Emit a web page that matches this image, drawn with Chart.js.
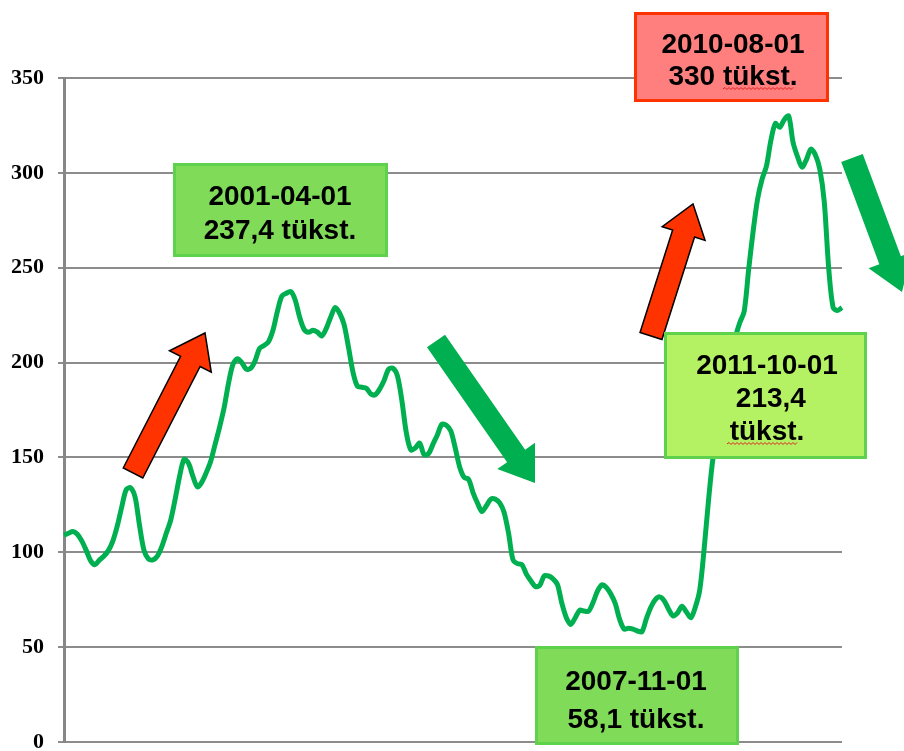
<!DOCTYPE html>
<html>
<head>
<meta charset="utf-8">
<script src="https://cdn.jsdelivr.net/npm/chart.js@4"></script>
<style>
  body { margin: 0; background: #fff; }
  canvas { display: block; }
</style>
</head>
<body>
<canvas id="myLineChart" width="904" height="751"></canvas>
<script>
// monthly values, thousands, 1997-01 .. 2011-08
var startYear = 1997;
var values = [
  109, 110, 111, 109.5, 106, 101, 95.5, 93.5, 96, 98, 101, 106,          // 1997
  114, 124, 133, 134, 129, 114, 101, 96.5, 96, 98, 103, 110,             // 1998
  117, 128, 140, 149, 147, 140, 134.5, 137, 142, 148, 157, 166,          // 1999
  176, 189, 199, 202, 200, 196.5, 197, 201, 207.5, 209, 211, 217,        // 2000
  227, 235, 236.5, 237.4, 233, 224, 217.5, 216, 217, 216, 214, 218,      // 2001
  224, 229, 226, 220, 208, 195, 187.5, 187, 186.5, 183.5, 183, 186,      // 2002
  190.5, 196.5, 197, 193, 180, 163, 154, 155, 157.5, 151.5, 152, 157,    // 2003
  162, 167.5, 167, 164, 155, 145, 139.5, 138.5, 131.5, 126, 121.5, 124.5,// 2004
  128, 128, 126, 121, 110, 96, 94, 93.5, 88.5, 85, 82, 82.5,             // 2005
  87.5, 87.5, 86, 83, 73, 65.5, 62, 65.5, 69.5, 69, 69, 73.5,            // 2006
  79.5, 82.8, 81.5, 78, 73, 64.5, 59.5, 60, 59.5, 58.5, 58.1, 65,        // 2007
  71, 75, 76.5, 74.5, 70, 66.5, 68, 71.5, 68.5, 65.5, 71, 80,            // 2008
  102, 128, 150, 163, 176, 188, 200, 213, 221, 227, 249, 269,            // 2009
  286, 296.5, 303.5, 317, 326, 324, 328, 330, 316, 308.5, 303, 307,      // 2010
  312.5, 309.5, 302, 285, 250, 229, 227.5, 229                           // 2011
];
var months = [];
for (var i = 0; i < values.length; i++) {
  var y = startYear + Math.floor(i / 12);
  var m = (i % 12) + 1;
  months.push(y + '-' + (m < 10 ? '0' + m : m));
}
var yTicks = [0, 50, 100, 150, 200, 250, 300, 350];

// callout boxes: text lines
var boxPeak1 = ['2001-04-01', '237,4 tükst.'];
var boxLow = ['2007-11-01', '58,1 tükst.'];
var boxPeak2 = ['2010-08-01', '330 tükst.'];
var boxLast = ['2011-10-01', ' 213,4', 'tükst.'];

var textFont = 'bold 28px "Liberation Sans", Arial, sans-serif';

function arrow(ctx, x0, y0, x1, y1, shaftW, headW, headL, fill, stroke) {
  var ang = Math.atan2(y1 - y0, x1 - x0);
  var len = Math.hypot(x1 - x0, y1 - y0);
  ctx.save();
  ctx.translate(x0, y0);
  ctx.rotate(ang);
  ctx.beginPath();
  ctx.moveTo(0, -shaftW / 2);
  ctx.lineTo(len - headL, -shaftW / 2);
  ctx.lineTo(len - headL, -headW / 2);
  ctx.lineTo(len, 0);
  ctx.lineTo(len - headL, headW / 2);
  ctx.lineTo(len - headL, shaftW / 2);
  ctx.lineTo(0, shaftW / 2);
  ctx.closePath();
  ctx.fillStyle = fill;
  ctx.fill();
  if (stroke) {
    ctx.strokeStyle = stroke;
    ctx.lineWidth = 1.5;
    ctx.stroke();
  }
  ctx.restore();
}

function box(ctx, x, y, w, h, fill, border, lines, cx, baselines) {
  ctx.save();
  ctx.fillStyle = fill;
  ctx.fillRect(x, y, w, h);
  ctx.strokeStyle = border;
  ctx.lineWidth = 3;
  ctx.strokeRect(x + 1.5, y + 1.5, w - 3, h - 3);
  ctx.fillStyle = '#000';
  ctx.font = textFont;
  ctx.textAlign = 'center';
  ctx.textBaseline = 'alphabetic';
  for (var i = 0; i < lines.length; i++) {
    ctx.fillText(lines[i], cx, baselines[i]);
  }
  ctx.restore();
}

// spell-check squiggle
function squiggle(ctx, x0, x1, y) {
  ctx.save();
  ctx.strokeStyle = '#e02020';
  ctx.lineWidth = 1;
  ctx.beginPath();
  var up = true;
  ctx.moveTo(x0, y);
  for (var x = x0 + 2; x <= x1; x += 2) {
    ctx.lineTo(x, up ? y - 1.5 : y + 0.5);
    up = !up;
  }
  ctx.stroke();
  ctx.restore();
}

const callouts = {
  id: 'callouts',
  afterDatasetsDraw(chart) {
    const { ctx } = chart;
    // arrows
    arrow(ctx, 133, 473, 205, 333, 22, 47, 32, '#FF3300', '#000');
    arrow(ctx, 651, 336, 693, 204, 23, 45, 31, '#FF3300', '#000');
    arrow(ctx, 436, 341, 535, 483, 22, 46, 33, '#00B050');
    arrow(ctx, 852, 158, 902, 292, 23, 46, 34, '#00B050');
    // boxes
    box(ctx, 173, 163, 215, 94, '#80DC58', '#5ED14D', boxPeak1, 280, [205, 239]);
    box(ctx, 634, 12, 195, 90, '#FF7F7F', '#FF3300', boxPeak2, 733, [53, 85]);
    squiggle(ctx, 723, 793, 89);
    box(ctx, 664, 332, 203, 127, '#B5F263', '#5ED14D', boxLast, 767, [374, 407, 440]);
    squiggle(ctx, 727, 797, 444);
    box(ctx, 535, 646, 204, 99, '#80DC58', '#5ED14D', boxLow, 636, [690, 728]);
  }
};

var ctx = document.getElementById('myLineChart').getContext('2d');

var myLineChart = new Chart(ctx, {
  type: 'line',
  data: {
    labels: months,
    datasets: [{
      data: values,
      borderColor: '#00B050',
      borderWidth: 5,
      pointRadius: 0,
      tension: 0.3,
      fill: false
    }]
  },
  options: {
    responsive: false,
    animation: false,
    layout: { padding: { top: 78, right: 62, bottom: 9, left: 0 } },
    plugins: {
      legend: { display: false },
      tooltip: { enabled: false }
    },
    scales: {
      x: {
        type: 'category',
        display: false,
        offset: false
      },
      y: {
        min: 0,
        max: 350,
        afterFit(scale) {
          scale.width = 64;
          scale.paddingTop = 0;
          scale.paddingBottom = 0;
        },
        afterBuildTicks(scale) { scale.ticks = yTicks.map(v => ({ value: v })); },
        ticks: {
          padding: 14,
          color: '#000',
          font: { family: '"Liberation Serif", "Times New Roman", serif', size: 22, weight: 'bold' }
        },
        grid: { color: '#8C8C8C', lineWidth: 2, tickLength: 6 },
        border: { color: '#878787', width: 3 }
      }
    }
  },
  plugins: [callouts]
});
</script>
</body>
</html>
